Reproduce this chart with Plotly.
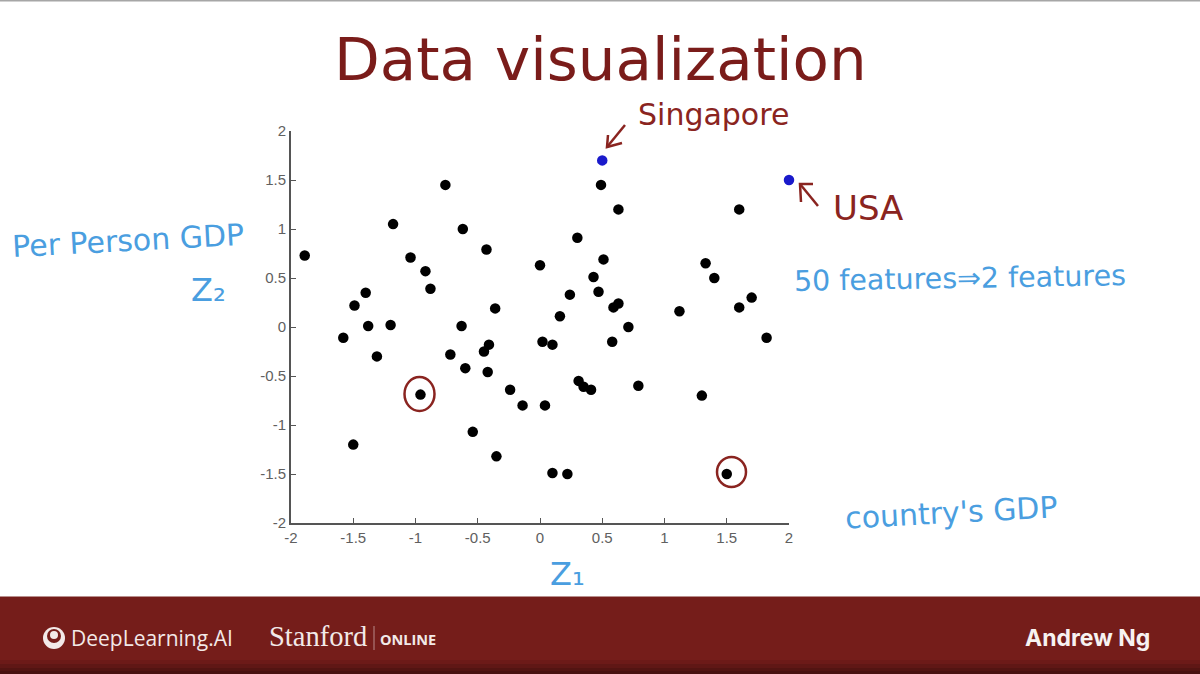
import plotly.graph_objects as go

# ---- data ----
z1_black = [-1.89,-1.18,-0.76,-0.62,-1.04,-0.92,-0.88,-0.43,-0.36,-1.49,-1.40,-1.38,-1.20,-0.63,-1.58,-1.31,
            -0.72,-0.60,-0.45,-0.41,-0.42,-0.96,-0.24,-0.14,0.04,-0.54,-1.50,-0.35,0.10,0.22,
            0.00,0.30,0.51,0.43,0.47,0.24,0.16,0.02,0.10,0.59,0.63,0.71,0.58,0.31,0.35,0.41,0.79,
            1.12,1.30,1.33,1.40,1.60,1.60,1.70,1.82,1.50,0.49,0.63]
z2_black = [0.73,1.05,1.45,1.00,0.71,0.57,0.39,0.79,0.19,0.22,0.35,0.01,0.02,0.01,-0.11,-0.30,
            -0.28,-0.42,-0.25,-0.18,-0.46,-0.69,-0.64,-0.80,-0.80,-1.07,-1.20,-1.32,-1.49,-1.50,
            0.63,0.91,0.69,0.51,0.36,0.33,0.11,-0.15,-0.18,0.20,0.24,0.00,-0.15,-0.55,-0.61,-0.64,-0.60,
            0.16,-0.70,0.65,0.50,1.20,0.20,0.30,-0.11,-1.50,1.45,1.20]
z1_blue = [0.50, 2.00]
z2_blue = [1.70, 1.50]
tick_vals = [-2,-1.5,-1,-0.5,0,0.5,1,1.5,2]
tick_text = ["-2","-1.5","-1","-0.5","0","0.5","1","1.5","2"]

# ---- pixel helpers for the annotations layer ----
L, R, T, B = 291, 789, 131, 523
px = lambda x: (x - L) / (R - L)
py = lambda y: (B - y) / (B - T)

RED = "#8a2420"
BLUE = "#4a9ee0"
FOOT = "#751d1a"
HAND = "DejaVu Sans"

fig = go.Figure()
fig.add_trace(go.Scatter(x=z1_black, y=z2_black, mode="markers", cliponaxis=False,
                         marker=dict(color="#000000", size=10.5), showlegend=False))
fig.add_trace(go.Scatter(x=z1_blue, y=z2_blue, mode="markers", cliponaxis=False,
                         marker=dict(color="#1a1acb", size=10.5), showlegend=False))

axis = dict(range=[-2,2], tickmode="array", tickvals=tick_vals, ticktext=tick_text, ticks="inside",
            ticklen=5, tickwidth=1, tickcolor="#555555", showgrid=False, zeroline=False,
            showline=True, linecolor="#555555", linewidth=2, fixedrange=True,
            tickfont=dict(family="Liberation Sans", size=15, color="#606060"))

def note(text, x, y, size, color, angle=0, family=HAND, anchor="left", weight=400):
    return dict(text=text, x=px(x), y=py(y), xref="paper", yref="paper", showarrow=False,
                font=dict(family=family, size=size, color=color, weight=weight), textangle=angle,
                xanchor=anchor, yanchor="middle")

annotations = [
    note("Data visualization", 600, 59, 59.5, "#7a1c1a", anchor="center"),
    note("Singapore", 636, 115, 30, RED),
    note("USA", 831, 208, 34, RED),
    note("Per Person GDP", 128, 240, 30, BLUE, angle=-3, anchor="center"),
    note("Z\u2082", 208, 290, 32, BLUE, anchor="center"),
    note("50 features\u21d22 features", 960, 278, 28.5, BLUE, angle=-1, anchor="center"),
    note("country's GDP", 951, 512, 30, BLUE, angle=-3, anchor="center"),
    note("Z\u2081", 567, 574, 32, BLUE, anchor="center"),
    note("DeepLearning.AI", 69, 638, 21, "#f2e9e8", family="Open Sans"),
    note("Stanford", 267, 636, 28.5, "#f2e9e8", family="Liberation Serif"),
    note("ONLINE", 378, 639, 14.5, "#f2e9e8", family="Open Sans", weight=700),
    note("Andrew Ng", 1087, 638, 23, "#f7f2f1", family="Inter", anchor="center", weight=700),
]

def ring(cx, cy, rx, ry, **kw):
    return dict(type="circle", xref="paper", yref="paper", x0=px(cx-rx), x1=px(cx+rx),
                y0=py(cy+ry), y1=py(cy-ry), **kw)

def band(y0, y1, color):
    return dict(type="rect", xref="paper", yref="paper", x0=px(0), x1=px(1200), y0=py(y1), y1=py(y0),
                fillcolor=color, line_width=0, layer="below")

def stroke(points):
    d = "M" + " L".join(f"{px(x):.5f},{py(y):.5f}" for x, y in points)
    return dict(type="path", xref="paper", yref="paper", path=d,
                line=dict(color=RED, width=2.5))

shapes = [
    band(0, 1.5, "#a6a6a6"),
    band(596, 598, "#b98f8d"),
    band(597, 674, FOOT),
    band(660, 664, "#6c1a18"),
    band(664, 668, "#5f1715"),
    band(668, 671, "#521412"),
    band(671, 674, "#481110"),
    dict(type="line", xref="paper", yref="paper", x0=px(374), x1=px(374), y0=py(650), y1=py(626),
         line=dict(color="#b98a88", width=1)),
    ring(419.5, 394, 15, 17, line=dict(color=RED, width=2.5)),
    ring(731.5, 472, 14.5, 15, line=dict(color=RED, width=2.5)),
    ring(54, 638, 11, 11, fillcolor="#f2e9e8", line_width=0),
    ring(54, 636, 7, 7, fillcolor=FOOT, line_width=0),
    ring(54, 635, 4, 4, fillcolor="#f2e9e8", line_width=0),
    stroke([(625, 125), (607, 147)]),
    stroke([(608, 135), (607, 147), (622, 143)]),
    stroke([(818, 206), (800, 184)]),
    stroke([(801, 202), (800, 184), (813, 184)]),
]

fig.update_layout(width=1200, height=674, autosize=False,
                  margin=dict(l=L, r=1200-R, t=T, b=674-B),
                  paper_bgcolor="#ffffff", plot_bgcolor="#ffffff",
                  xaxis=axis, yaxis=axis, annotations=annotations, shapes=shapes, showlegend=False)
fig.write_html("out.html", config=dict(displayModeBar=False),
               post_script="document.body.style.margin='0';document.documentElement.style.overflow='hidden';")
